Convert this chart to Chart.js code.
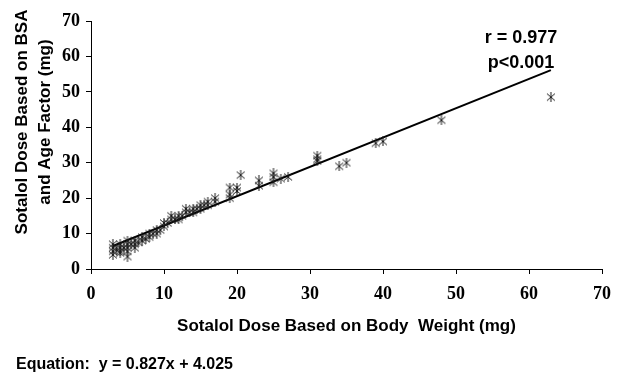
<!DOCTYPE html>
<html>
<head>
<meta charset="utf-8">
<script src="https://cdn.jsdelivr.net/npm/chart.js@4"></script>
<style>
  html, body { margin: 0; padding: 0; background: #fff; }
  #wrap { width: 630px; height: 375px; }
</style>
</head>
<body>
<div id="wrap"><canvas id="grafico" width="630" height="375"></canvas></div>
<script>
// dose by body weight (mg)
var doseWeight = [3, 3, 3, 3, 3.5, 4, 4, 4, 4, 4.5, 5, 5, 5, 5, 5, 5.5, 6, 6, 6, 6.5,
    7, 7, 7.5, 8, 8, 8.5, 9, 9, 9.5, 10, 10, 10.5, 11, 11, 11.5, 12, 12, 12.5, 13, 13,
    13.5, 14, 14, 14.5, 15, 15, 15.5, 16, 16, 17, 17, 19, 19, 19, 20, 20, 20.5, 23, 23,
    25, 25, 25, 26, 27, 31, 31, 31, 34, 35, 39, 40, 48, 63];
// dose by BSA and age factor (mg)
var doseBsa = [4, 5, 6, 7, 5.5, 4.5, 5, 6, 7, 6, 3.5, 5, 6, 7, 8, 7, 6, 7, 8, 7.5,
    8, 9, 8.5, 9, 10, 10, 10, 11, 11, 12, 13, 13, 14, 15, 14, 14, 15, 15, 16, 17,
    16, 17, 16, 17, 17, 18, 18, 18, 19, 19, 20, 20, 21, 23, 22, 23, 26.5, 23.5, 25,
    24.5, 26, 27, 25.5, 26, 30.5, 31, 32, 29, 30, 35.5, 36, 42, 48.5];
var axisTicks = [0, 10, 20, 30, 40, 50, 60, 70];
var slope = 0.827;
var intercept = 4.025;

var puntos = doseWeight.map(function (x, i) { return { x: x, y: doseBsa[i] }; });
var xMin = Math.min.apply(null, doseWeight);
var xMax = Math.max.apply(null, doseWeight);
var recta = [
    { x: xMin, y: slope * xMin + intercept },
    { x: xMax, y: slope * xMax + intercept }
];

// asterisk marker like the spreadsheet one
function marcaEstrella() {
    var c = document.createElement('canvas');
    c.width = 10; c.height = 10;
    var g = c.getContext('2d');
    g.strokeStyle = '#1a1a1a';
    g.lineWidth = 1;
    g.beginPath();
    g.moveTo(1, 1.5); g.lineTo(9, 8.5);
    g.moveTo(9, 1.5); g.lineTo(1, 8.5);
    g.moveTo(5, 0); g.lineTo(5, 10);
    g.stroke();
    return c;
}

var sans = '"Liberation Sans", Arial, sans-serif';
var serif = '"Liberation Serif", "Times New Roman", serif';

var textos = {
    id: 'textos',
    afterDraw: function (chart) {
        var ctx = chart.ctx;
        ctx.save();
        ctx.fillStyle = '#000';
        ctx.font = 'bold 17px ' + sans;
        ctx.textAlign = 'center';
        ctx.textBaseline = 'middle';
        ctx.save();
        ctx.translate(22, 122);
        ctx.rotate(-Math.PI / 2);
        ctx.fillText('Sotalol Dose Based on BSA', 0, 0);
        ctx.fillText('and Age Factor (mg)', 0, 23);
        ctx.restore();
        ctx.font = 'bold 18px ' + sans;
        ctx.fillText('r = 0.977', 521, 38);
        ctx.fillText('p<0.001', 521, 63);
        ctx.font = 'bold 16px ' + sans;
        ctx.textAlign = 'left';
        ctx.fillText('Equation:  y = 0.827x + 4.025', 16, 365);
        ctx.restore();
    }
};

var ctx = document.getElementById('grafico').getContext('2d');
var myChart = new Chart(ctx, {
    type: 'scatter',
    data: {
        datasets: [{
            label: 'Datos',
            data: puntos,
            pointStyle: marcaEstrella(),
            pointRadius: 5,
            showLine: false
        }, {
            label: 'Recta',
            type: 'line',
            data: recta,
            borderColor: '#000',
            borderWidth: 2,
            pointRadius: 0,
            fill: false
        }]
    },
    options: {
        responsive: false,
        animation: false,
        layout: { padding: { top: 21, right: 28, bottom: 26, left: 0 } },
        plugins: { legend: { display: false }, tooltip: { enabled: false } },
        scales: {
            x: {
                type: 'linear',
                min: 0,
                max: 70,
                afterFit: function (s) { s.height = 80; },
                afterBuildTicks: function (s) { s.ticks = axisTicks.map(function (v) { return { value: v }; }); },
                grid: { drawOnChartArea: false, drawTicks: true, tickLength: 5, color: '#000' },
                border: { color: '#000', width: 1 },
                ticks: { color: '#000', padding: 10, font: { family: serif, size: 18, weight: 'bold' } },
                title: {
                    display: true,
                    text: 'Sotalol Dose Based on Body  Weight (mg)',
                    color: '#000',
                    padding: { top: 0, bottom: 12 },
                    font: { family: sans, size: 17, weight: 'bold' }
                }
            },
            y: {
                type: 'linear',
                min: 0,
                max: 70,
                afterFit: function (s) { s.width = 91; },
                afterBuildTicks: function (s) { s.ticks = axisTicks.map(function (v) { return { value: v }; }); },
                grid: { drawOnChartArea: false, drawTicks: true, tickLength: 5, color: '#000' },
                border: { color: '#000', width: 1 },
                ticks: { color: '#000', padding: 6, font: { family: serif, size: 18, weight: 'bold' } }
            }
        }
    },
    plugins: [textos]
});
</script>
</body>
</html>
